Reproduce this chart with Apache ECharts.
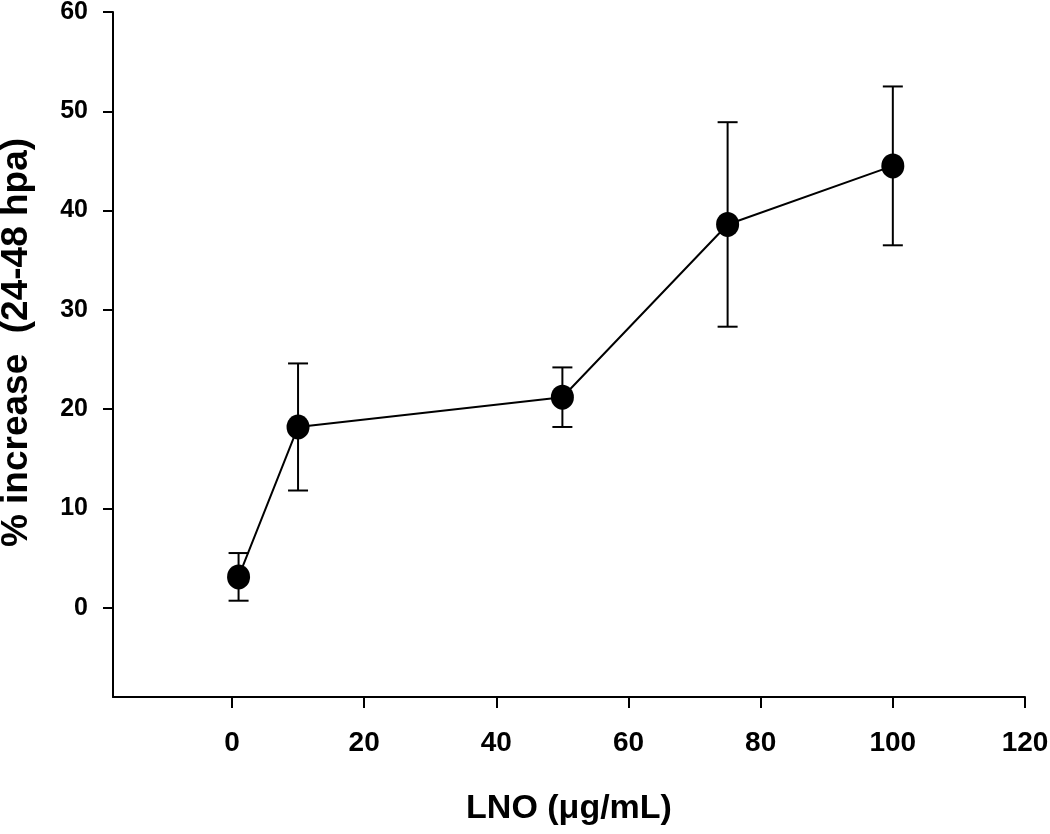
<!DOCTYPE html>
<html>
<head>
<meta charset="utf-8">
<script src="https://cdn.jsdelivr.net/npm/echarts@6/dist/echarts.min.js"></script>
<style>html,body{margin:0;padding:0;background:#fff}#c{width:1050px;height:834px}</style>
</head>
<body>
<div id="c"></div>
<script>
var doses = [1, 10, 50, 75, 100];
var means = [3.1, 18.2, 21.2, 38.6, 44.5];
var errs = [2.4, 6.4, 3.0, 10.3, 8.0];
var xTicks = [0, 20, 40, 60, 80, 100, 120];
var yTicks = [0, 10, 20, 30, 40, 50, 60];

var chart = echarts.init(document.getElementById('c'));
var lineData = doses.map(function (d, i) { return [d, means[i]]; });
var errData = doses.map(function (d, i) { return [d, means[i] - errs[i], means[i] + errs[i]]; });
var font = '"Liberation Sans", Arial, sans-serif';
chart.setOption({
  animation: false,
  backgroundColor: '#fff',
  grid: { left: 113, right: 25, top: 12, bottom: 137, containLabel: false, outerBoundsMode: 'none' },
  xAxis: {
    type: 'value', min: -18, max: 120,
    name: 'LNO (\u03bcg/mL)', nameLocation: 'middle', nameGap: 95,
    nameTextStyle: { fontFamily: font, fontSize: 34, fontWeight: 'bold', color: '#000' },
    splitLine: { show: false },
    axisLine: { onZero: false, lineStyle: { color: '#000', width: 2 } },
    axisTick: { show: true, inside: false, length: 11, customValues: xTicks, lineStyle: { color: '#000', width: 2 } },
    axisLabel: { customValues: xTicks, margin: 32, fontFamily: font, fontSize: 28, fontWeight: 'bold', color: '#000' }
  },
  yAxis: {
    type: 'value', min: -9, max: 60,
    name: '% increase  (24-48 hpa)', nameLocation: 'middle', nameGap: 78,
    nameTextStyle: { fontFamily: font, fontSize: 37, fontWeight: 'bold', color: '#000', padding: [0, 0, 0, 24] },
    splitLine: { show: false },
    axisLine: { onZero: false, lineStyle: { color: '#000', width: 2 } },
    axisTick: { show: true, inside: false, length: 10, customValues: yTicks, lineStyle: { color: '#000', width: 2 } },
    axisLabel: { customValues: yTicks, margin: 25, fontFamily: font, fontSize: 25, fontWeight: 'bold', color: '#000' }
  },
  series: [
    {
      type: 'custom',
      data: errData,
      renderItem: function (params, api) {
        var x = api.value(0);
        var lo = api.coord([x, api.value(1)]);
        var hi = api.coord([x, api.value(2)]);
        var w = 10;
        var st = { stroke: '#000', lineWidth: 2 };
        return {
          type: 'group',
          children: [
            { type: 'line', shape: { x1: lo[0], y1: lo[1], x2: hi[0], y2: hi[1] }, style: st },
            { type: 'line', shape: { x1: lo[0] - w, y1: lo[1], x2: lo[0] + w, y2: lo[1] }, style: st },
            { type: 'line', shape: { x1: hi[0] - w, y1: hi[1], x2: hi[0] + w, y2: hi[1] }, style: st }
          ]
        };
      },
      z: 1
    },
    {
      type: 'line',
      data: lineData,
      symbol: 'circle',
      symbolSize: [23, 25],
      lineStyle: { color: '#000', width: 2 },
      itemStyle: { color: '#000', borderWidth: 0 },
      z: 2
    }
  ]
});
</script>
</body>
</html>
